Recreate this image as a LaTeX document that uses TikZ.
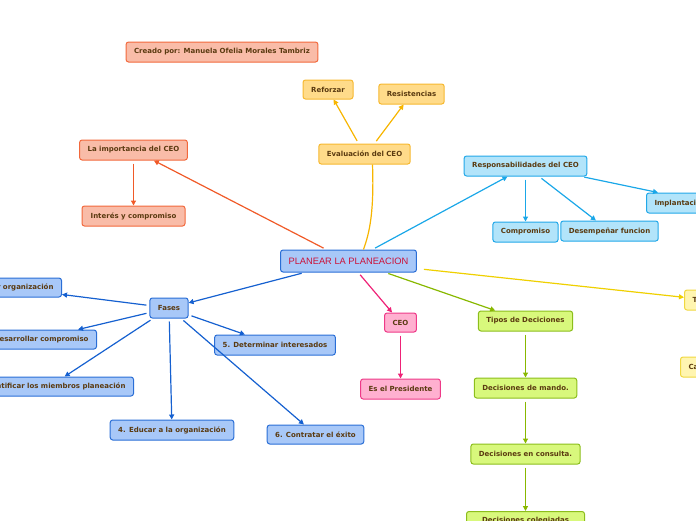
\documentclass[tikz,border=0pt]{standalone}
\usepackage{fontspec}
\setmainfont{DejaVu Sans}
\newfontfamily\titlefont{Liberation Sans}
\usetikzlibrary{arrows.meta,calc}
\definecolor{txt}{HTML}{5A3A10}
\definecolor{salF}{HTML}{F9BCA8}\definecolor{salD}{HTML}{F2683C}
\definecolor{oraF}{HTML}{FFDB8A}\definecolor{oraD}{HTML}{F6B830}
\definecolor{lbF}{HTML}{B2E4FA}\definecolor{lbD}{HTML}{22A8E8}
\definecolor{blF}{HTML}{A8C8F8}\definecolor{blD}{HTML}{2A6ED6}
\definecolor{pkF}{HTML}{FFB0D0}\definecolor{pkD}{HTML}{EE3A88}
\definecolor{grF}{HTML}{D8F87C}\definecolor{grD}{HTML}{8CBE1C}
\definecolor{yeF}{HTML}{FFF5B0}\definecolor{yeD}{HTML}{F0D840}
\definecolor{salE}{HTML}{F05A28}
\definecolor{oraE}{HTML}{F7B500}
\definecolor{yeE}{HTML}{EFD000}
\definecolor{lbE}{HTML}{1AA7E8}
\definecolor{blE}{HTML}{1560D0}
\definecolor{pkE}{HTML}{EE2277}
\definecolor{grE}{HTML}{88B800}
\definecolor{titred}{HTML}{CC1036}
\tikzset{
  box/.style={rounded corners=2.5pt, line width=1pt, minimum height=20pt, inner xsep=8pt, inner ysep=0pt,
    font=\fontsize{7}{8}\selectfont\bfseries, text=txt, align=center},
  salbox/.style={box, fill=salF, draw=salD},
  orabox/.style={box, fill=oraF, draw=oraD},
  lbbox/.style={box, fill=lbF, draw=lbD},
  blbox/.style={box, fill=blF, draw=blD},
  pkbox/.style={box, fill=pkF, draw=pkD},
  grbox/.style={box, fill=grF, draw=grD},
  yebox/.style={box, fill=yeF, draw=yeD},
  conn/.style={line width=1.2pt, -{Triangle[length=5pt,width=5pt]}, shorten <=3pt},
}
\begin{document}
\begin{tikzpicture}[x=1pt,y=-1pt]
\useasboundingbox (0,0) rectangle (696,520);
% nodes
\node[salbox, minimum width=190pt] (creado) at (222,52) {Creado por: Manuela Ofelia Morales Tambriz};
\node[orabox, minimum width=50pt, minimum height=19pt] (reforzar) at (328,89.5) {Reforzar};
\node[orabox, minimum width=65pt] (resist) at (411.5,94) {Resistencias};
\node[orabox, minimum width=91pt] (eval) at (364.5,154) {Evaluación del CEO};
\node[salbox, minimum width=107pt] (impo) at (133.5,150) {La importancia del CEO};
\node[salbox, minimum width=103pt] (interes) at (133.5,216) {Interés y compromiso};
\node[lbbox, minimum width=121pt] (resp) at (525.5,166) {Responsabilidades del CEO};
\node[lbbox, minimum width=65pt] (compr) at (525.5,232) {Compromiso};
\node[lbbox, minimum width=97pt] (desemp) at (609.5,231) {Desempeñar funcion};
\node[lbbox, anchor=west] (implant) at (646,203) {Implantación};
\node[blbox, minimum width=135pt, minimum height=22pt, font=\titlefont\fontsize{9.3}{10}\selectfont, text=titred] (plan) at (348.5,261) {PLANEAR LA PLANEACION};
\node[blbox, minimum width=38pt] (fases) at (169,308) {Fases};
\node[blbox, anchor=east, minimum height=19pt] (f1) at (62,287.5) {1. Evaluar organización};
\node[blbox, anchor=east, minimum height=19pt] (f2) at (97,339.5) {2. Desarrollar compromiso};
\node[blbox, anchor=east, minimum height=19pt] (f3) at (134,386.5) {3. Identificar los miembros planeación};
\node[blbox, minimum width=122pt] (f4) at (172,430) {4. Educar a la organización};
\node[blbox, minimum width=118pt] (f5) at (275,345) {5. Determinar interesados};
\node[blbox, minimum width=95pt, minimum height=19pt] (f6) at (315.5,434.5) {6. Contratar el éxito};
\node[pkbox, minimum width=31pt, minimum height=19pt] (ceo) at (400.5,322.5) {CEO};
\node[pkbox, minimum width=78pt] (pres) at (400.5,389) {Es el Presidente};
\node[grbox, minimum width=93pt] (tipos) at (525.5,321) {Tipos de Deciciones};
\node[grbox, minimum width=102pt] (mando) at (525.5,388) {Decisiones de mando.};
\node[grbox, minimum width=108pt] (consulta) at (525.5,454) {Decisiones en consulta.};
\node[grbox, minimum width=118pt, text height=1pt, text depth=0pt] (coleg) at (525.5,521.5) {Decisiones colegiadas};
\node[yebox, anchor=west] (tec) at (684,300) {Técnicas};
\node[yebox, anchor=west] (carac) at (680,367) {Características};
% connectors
\draw[conn, salE] (plan) -- (impo);
\draw[conn, salE] (impo) -- (interes);
\draw[line width=1.2pt, oraE] ($(plan.north)+(15,0)$) .. controls +(4,-12) and +(2,55) .. ($(eval.south)+(8,0)$);
\draw[conn, oraE] (eval) -- (reforzar);
\draw[conn, oraE] ($(eval.north)+(10,0)$) -- (resist);
\draw[conn, lbE] ($(plan.north)+(24,0)$) -- ($(resp.south)+(-18,0)$);
\draw[conn, lbE] (resp) -- (compr);
\draw[conn, lbE] (resp) -- (desemp);
\draw[conn, lbE] ($(resp.south east)+(-6,0)$) -- ($(implant.north west)+(12,0)$);
\draw[conn, yeE] ($(plan.east)+(4,8)$) -- (tec);
\draw[conn, grE] ($(plan.south)+(37,0)$) -- (tipos);
\draw[conn, grE] (tipos) -- (mando);
\draw[conn, grE] (mando) -- (consulta);
\draw[conn, grE] (consulta) -- (coleg);
\draw[conn, pkE] (plan) -- (ceo);
\draw[conn, pkE] (ceo) -- (pres);
\draw[conn, blE] (plan) -- (fases);
\draw[conn, blE] (fases) -- (f1);
\draw[conn, blE] (fases) -- (f2);
\draw[conn, blE] (fases) -- (f3);
\draw[conn, blE] (fases) -- (f4);
\draw[conn, blE] (fases) -- (f5);
\draw[conn, blE] (fases) -- (f6);
\end{tikzpicture}
\end{document}
